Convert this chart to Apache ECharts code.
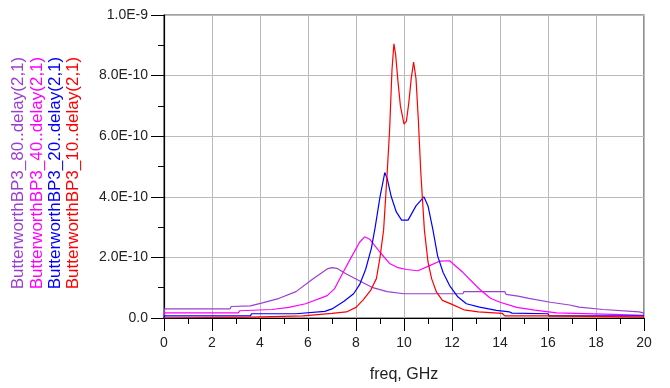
<!DOCTYPE html>
<html><head><meta charset="utf-8">
<script src="https://cdn.jsdelivr.net/npm/echarts@6/dist/echarts.min.js"></script>
<style>html,body{margin:0;padding:0;background:#fff}#c{width:670px;height:388px}</style>
</head><body><div id="c"></div>
<script>
// values in units of 1e-10 s, freq in GHz
const seriesNames = ['ButterworthBP3_80..delay(2,1)','ButterworthBP3_40..delay(2,1)','ButterworthBP3_20..delay(2,1)','ButterworthBP3_10..delay(2,1)'];
const seriesColors = ['#9b3fd0','#ff00ff','#0000ff','#ff0000'];
const yTickLabels = ['0.0','2.0E-10','4.0E-10','6.0E-10','8.0E-10','1.0E-9'];
const xTickLabels = ['0','2','4','6','8','10','12','14','16','18','20'];

const bw80 = [[0,0],[0.02,0.3],[2.75,0.3],[2.8,0.38],[3.6,0.4],[4.1,0.5],[4.8,0.65],[5.5,0.87],[6.2,1.29],[6.8,1.62],[7.0,1.66],[7.2,1.64],[7.6,1.45],[8.0,1.29],[8.7,1.0],[9.3,0.87],[10.0,0.8],[12.45,0.8],[12.5,0.87],[14.2,0.87],[14.25,0.78],[14.75,0.72],[15.2,0.65],[16.1,0.52],[16.9,0.43],[17.3,0.36],[18.3,0.28],[19.8,0.2],[20,0.16]];
const bw40 = [[0,0],[0.02,0.17],[3.1,0.17],[3.15,0.24],[4.5,0.28],[5.2,0.35],[5.9,0.47],[6.8,0.74],[7.1,0.96],[7.46,1.5],[7.8,2.0],[8.15,2.5],[8.36,2.68],[8.57,2.6],[9.0,2.17],[9.4,1.8],[9.75,1.66],[10.1,1.6],[10.58,1.56],[11.07,1.73],[11.5,1.88],[11.9,1.89],[12.46,1.5],[13.15,0.95],[13.6,0.65],[14.0,0.52],[14.7,0.35],[15.45,0.26],[16.35,0.17],[18.7,0.12],[18.75,0.09],[20,0.09]];
const bw20 = [[0,0],[0.02,0.07],[3.6,0.07],[3.65,0.14],[5.5,0.14],[5.55,0.2],[6.7,0.22],[7.0,0.3],[7.5,0.55],[7.9,0.8],[8.15,1.1],[8.4,1.6],[8.64,2.3],[8.8,3.0],[9.0,4.0],[9.2,4.8],[9.3,4.6],[9.47,4.0],[9.68,3.5],[9.9,3.23],[10.17,3.23],[10.5,3.7],[10.83,4.0],[11.0,3.7],[11.2,2.93],[11.4,2.05],[11.63,1.5],[11.9,1.07],[12.25,0.69],[12.6,0.47],[13.15,0.36],[13.85,0.25],[14.4,0.2],[14.5,0.16],[16.0,0.14],[16.05,0.07],[20,0.07]];
const bw10 = [[0,0],[0.02,0.03],[3.6,0.03],[3.65,0.07],[5.8,0.07],[5.85,0.13],[7.0,0.15],[7.6,0.2],[8.0,0.35],[8.3,0.6],[8.6,0.9],[8.85,1.3],[9.0,2.0],[9.15,2.9],[9.3,4.8],[9.4,6.2],[9.5,8.2],[9.58,9.05],[9.65,8.7],[9.75,7.8],[9.85,7.0],[10.0,6.4],[10.1,6.5],[10.2,7.1],[10.3,7.9],[10.4,8.45],[10.5,7.9],[10.6,6.5],[10.7,4.8],[10.85,2.9],[11.0,1.85],[11.15,1.3],[11.35,0.86],[11.6,0.58],[12.0,0.45],[12.5,0.27],[13.1,0.2],[14.1,0.15],[14.2,0.07],[16.0,0.07],[16.05,0.03],[20,0.03]];
const seriesData = [bw80, bw40, bw20, bw10];

const chart = echarts.init(document.getElementById('c'), null, {renderer:'canvas'});
const font = 'Liberation Sans, Arial, sans-serif';
const legendX = [18, 37, 55, 73];
chart.setOption({
  animation:false,
  backgroundColor:'#fff',
  grid:{left:164, right:26, top:15, bottom:69, show:true, borderColor:'#444', borderWidth:1.2},
  xAxis:{type:'value', min:0, max:20, interval:2,
    name:'freq, GHz', nameLocation:'middle', nameGap:49,
    nameTextStyle:{fontFamily:font, fontSize:16, color:'#222'},
    axisLine:{show:true, lineStyle:{color:'#000', width:1.2}},
    axisTick:{show:true, length:13, lineStyle:{color:'#000'}},
    minorTick:{show:true, splitNumber:2, length:6, lineStyle:{color:'#000'}},
    splitLine:{show:true, lineStyle:{color:'#bbb', width:1}},
    axisLabel:{margin:18, fontFamily:font, fontSize:14, color:'#222', formatter:(v)=>xTickLabels[Math.round(v/2)]}
  },
  yAxis:{type:'value', min:0, max:10, interval:2,
    axisLine:{show:true, lineStyle:{color:'#000', width:1.2}},
    axisTick:{show:true, length:13, lineStyle:{color:'#000'}},
    minorTick:{show:true, splitNumber:2, length:6, lineStyle:{color:'#000'}},
    splitLine:{show:true, lineStyle:{color:'#bbb', width:1}},
    axisLabel:{margin:16, fontFamily:font, fontSize:14, color:'#222', formatter:(v)=>yTickLabels[Math.round(v/2)]}
  },
  graphic: seriesNames.map((n,i)=>({type:'text', x:legendX[i], y:173, rotation:Math.PI/2,
    style:{text:n, fill:seriesColors[i], font:'17px '+font, textAlign:'center', textVerticalAlign:'middle'}})),
  series: seriesData.map((d,i)=>({type:'line', name:seriesNames[i], data:d, showSymbol:false, symbol:'none',
    lineStyle:{color:seriesColors[i], width:1.2}, itemStyle:{color:seriesColors[i]}}))
});
</script></body></html>
